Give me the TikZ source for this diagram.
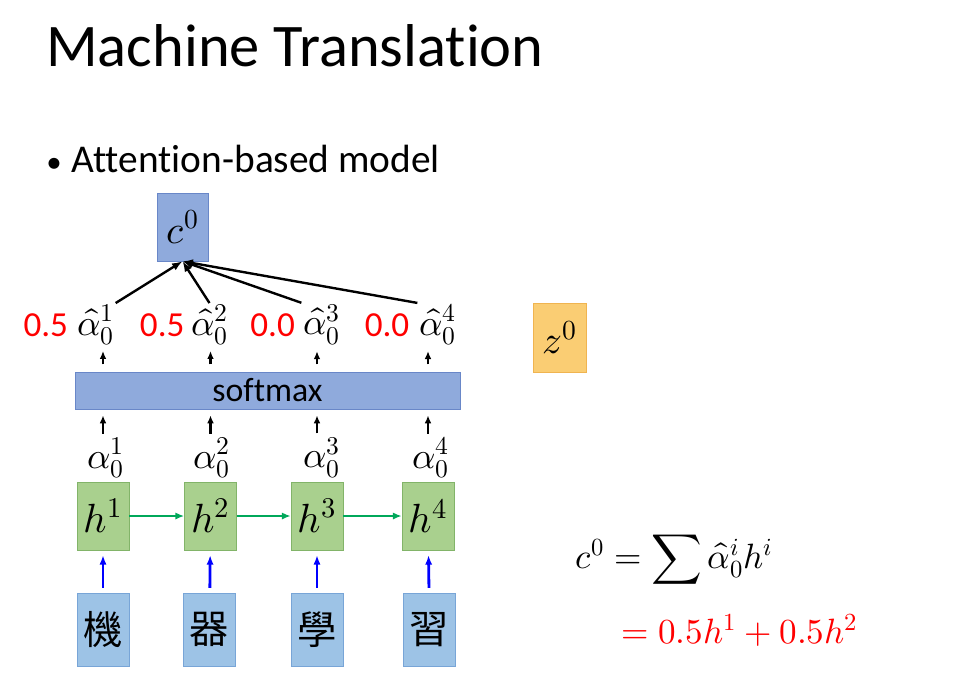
\documentclass[tikz,border=0pt]{standalone}
\usepackage{amsmath}
\usepackage{fontspec}
\usepackage{unicode-math}
\setmainfont{Carlito}[Ligatures=NoCommon]
\newfontfamily\cjk{Noto Sans CJK TC}
\usetikzlibrary{positioning,arrows.meta}
\definecolor{boxblue}{RGB}{143,170,220}
\definecolor{lineblue}{RGB}{105,135,200}
\definecolor{wordblue}{RGB}{157,195,230}
\definecolor{wordline}{RGB}{120,165,215}
\definecolor{hgreen}{RGB}{169,208,142}
\definecolor{hline}{RGB}{130,180,105}
\definecolor{zorange}{RGB}{250,205,115}
\definecolor{zline}{RGB}{240,180,80}
\definecolor{arrgreen}{RGB}{0,168,90}

\begin{document}
\begin{tikzpicture}[x=0.025cm, y=-0.025cm,
  cbox/.style={draw=lineblue, fill=boxblue, minimum width=1.28cm, minimum height=1.7cm, inner sep=0pt, font=\fontsize{28}{30}\selectfont},
  hbox/.style={draw=hline, fill=hgreen, minimum width=1.3cm, minimum height=1.7cm, inner sep=0pt, font=\fontsize{29}{30}\selectfont},
  wbox/.style={draw=wordline, fill=wordblue, minimum width=1.3cm, minimum height=1.83cm, inner sep=0pt, font=\fontsize{28}{30}\selectfont\cjk},
  zbox/.style={draw=zline, fill=zorange, minimum width=1.32cm, minimum height=1.72cm, inner sep=0pt, font=\fontsize{28}{30}\selectfont},
  lbl/.style={inner sep=1pt, font=\fontsize{26}{28}\selectfont},
  num/.style={inner sep=1pt, text=red, font=\fontsize{25}{28}\selectfont},
  sumarr/.style={-{Latex[length=0.26cm,width=0.2cm]}, line width=1.7pt},
  tinyarr/.style={-{Latex[length=0.2cm,width=0.17cm]}, line width=1.5pt},
  harr/.style={-{Latex[length=0.22cm,width=0.18cm]}, line width=1.8pt, arrgreen},
  warr/.style={-{Latex[length=0.24cm,width=0.18cm]}, line width=2pt, blue}]
\useasboundingbox (0,0) rectangle (979,692);

% Heading
\node[anchor=base west, inner sep=0pt, font=\fontsize{43}{50}\selectfont] (title) at (46,66) {Machine Translation};
\node[anchor=base west, inner sep=0pt, font=\fontsize{28}{34}\selectfont] (bullet) at (46,172) {{\fontsize{22}{26}\selectfont\textbullet}\hspace{0.25em}Attention-based model};

% Nodes
\node[cbox] (c0) at (182.5,227) {$c^0$};
\node[zbox] (z0) at (559.5,337.5) {$z^0$};

\node[lbl] (ah1) at (95.5,325) {$\hat{\alpha}_0^1$};
\node[lbl] (ah2) at (209.5,325) {$\hat{\alpha}_0^2$};
\node[lbl] (ah3) at (321.5,325) {$\hat{\alpha}_0^3$};
\node[lbl] (ah4) at (437.5,325) {$\hat{\alpha}_0^4$};
\node[num, left=0.14cm of ah1] (p1) {0.5};
\node[num, left=0.08cm of ah2] (p2) {0.5};
\node[num, left=0.12cm of ah3] (p3) {0.0};
\node[num, left=0.16cm of ah4] (p4) {0.0};

\node[draw=lineblue, fill=boxblue, minimum width=9.62cm, minimum height=0.93cm, inner sep=0pt, font=\fontsize{24}{28}\selectfont] (softmax) at (267.5,390.5) {softmax};

\node[lbl] (al1) at (106,458) {$\alpha_0^1$};
\node[lbl] (al2) at (211.5,458) {$\alpha_0^2$};
\node[lbl] (al3) at (321.5,458) {$\alpha_0^3$};
\node[lbl] (al4) at (431,458) {$\alpha_0^4$};

\node[hbox] (h1) at (103,516) {$h^1$};
\node[hbox] (h2) at (210.5,516) {$h^2$};
\node[hbox] (h3) at (317,516) {$h^3$};
\node[hbox] (h4) at (428,516) {$h^4$};

\node[wbox] (w1) at (103,629.5) {機};
\node[wbox] (w2) at (209.5,629.5) {器};
\node[wbox] (w3) at (317,629.5) {學};
\node[wbox] (w4) at (429.5,629.5) {習};

% Formula
\node[anchor=base west, inner sep=0pt, font=\fontsize{25}{30}\selectfont] (eq) at (575,568) {$c^0=\displaystyle\sum\hat{\alpha}_0^i h^i$};
\node[anchor=base west, inner sep=0pt, text=red, font=\fontsize{25}{30}\selectfont] (eqred) at (621,643) {$=0.5h^1+0.5h^2$};

% Arrows
\draw[sumarr] (ah1.north east) -- (c0.south);
\draw[sumarr] (ah2.north) -- (c0.south);
\draw[sumarr] (ah3.north west) -- (c0.south);
\draw[sumarr] (ah4.north west) -- (c0.south);

\draw[tinyarr, shorten <=0.18cm, shorten >=0.1cm] (softmax.north -| h1) -- (ah1.south -| h1);
\draw[tinyarr, shorten <=0.18cm, shorten >=0.1cm] (softmax.north -| h2) -- (ah2.south -| h2);
\draw[tinyarr, shorten <=0.18cm, shorten >=0.1cm] (softmax.north -| h3) -- (ah3.south -| h3);
\draw[tinyarr, shorten <=0.18cm, shorten >=0.1cm] (softmax.north -| h4) -- (ah4.south -| h4);

\draw[tinyarr, shorten <=0.06cm, shorten >=0.15cm] (al1.north -| h1) -- (softmax.south -| h1);
\draw[tinyarr, shorten <=0.06cm, shorten >=0.15cm] (al2.north -| h2) -- (softmax.south -| h2);
\draw[tinyarr, shorten <=0.06cm, shorten >=0.15cm] (al3.north -| h3) -- (softmax.south -| h3);
\draw[tinyarr, shorten <=0.06cm, shorten >=0.15cm] (al4.north -| h4) -- (softmax.south -| h4);

\draw[harr] (h1) -- (h2);
\draw[harr] (h2) -- (h3);
\draw[harr] (h3) -- (h4);

\draw[warr, shorten <=0.12cm, shorten >=0.12cm] (w1) -- (h1);
\draw[warr, shorten <=0.12cm, shorten >=0.12cm] (w2) -- (h2);
\draw[warr, shorten <=0.12cm, shorten >=0.12cm] (w3) -- (h3);
\draw[warr, shorten <=0.12cm, shorten >=0.12cm] (w4) -- (h4);
\end{tikzpicture}
\end{document}
